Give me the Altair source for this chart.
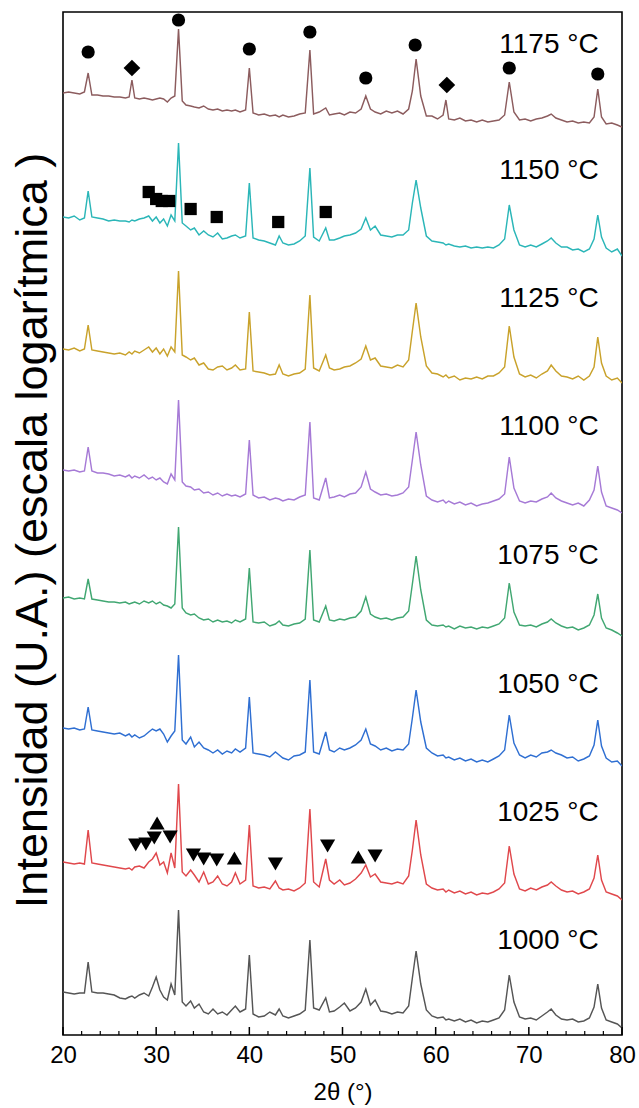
import altair as alt
import pandas as pd

# 2-theta sampling grid (degrees)
THETA = [
    20.0, 20.6, 21.2, 21.8, 22.3, 22.7, 23.1, 23.7, 24.3, 24.9,
    25.5, 26.1, 26.7, 27.1, 27.4, 27.7, 28.2, 28.7, 29.2, 29.6,
    30.0, 30.4, 30.8, 31.2, 31.6, 32.0, 32.4, 32.8, 33.2, 33.7,
    34.1, 34.6, 35.1, 35.6, 36.1, 36.6, 37.1, 37.6, 38.1, 38.5,
    39.0, 39.6, 40.0, 40.4, 41.0, 41.6, 42.2, 42.8, 43.2, 43.6,
    44.2, 44.8, 45.4, 46.0, 46.5, 46.9, 47.5, 48.2, 48.6, 49.1,
    49.7, 50.2, 50.8, 51.4, 52.0, 52.5, 53.0, 53.5, 54.1, 54.7,
    55.3, 55.9, 56.5, 57.1, 57.5, 57.9, 58.4, 59.0, 59.6, 60.2,
    60.8, 61.1, 61.4, 62.0, 62.6, 63.2, 63.8, 64.4, 65.0, 65.6,
    66.2, 66.8, 67.4, 67.9, 68.4, 69.0, 69.6, 70.2, 70.8, 71.4,
    72.0, 72.4, 72.9, 73.5, 74.1, 74.7, 75.3, 75.9, 76.5, 77.0,
    77.4, 77.8, 78.3, 78.9, 79.5, 80.0,
]

TEMPS = ["1175 °C", "1150 °C", "1125 °C", "1100 °C",
         "1075 °C", "1050 °C", "1025 °C", "1000 °C"]
COLORS = ["#8c5c5e", "#2bb6b8", "#c9a22b", "#a67ad6",
          "#41a772", "#2f6fd2", "#e0484c", "#555555"]
# vertical stacking offset of each pattern (arbitrary units)
OFFSETS = [942, 818, 686, 565, 437, 307, 173, 43]
# label heights (arbitrary units)
LABEL_Y = [990, 864, 736, 608, 479, 350, 222, 94]

I_1175 = [
    0, 1, 0, -1, 1, 20, -2, -2, -3, -3,
    -4, -4, -5, -4, 13, -5, -6, -5, -6, -7,
    -6, -5, -6, -9, -5, -3, 64, -8, -12, -13,
    -14, -15, -13, -16, -17, -16, -18, -17, -18, -17,
    -19, -17, 25, -20, -22, -21, -23, -22, -24, -22,
    -24, -23, -21, -20, 43, -21, -19, -15, -22, -21,
    -20, -22, -19, -20, -16, -3, -16, -19, -21, -18,
    -20, -18, -21, -16, 2, 34, -3, -23, -23, -26,
    -22, -7, -26, -27, -25, -28, -27, -29, -27, -29,
    -28, -27, -22, 11, -19, -27, -26, -28, -26, -25,
    -23, -21, -25, -27, -29, -28, -30, -29, -30, -24,
    4, -24, -31, -30, -32, -34,
]
I_1150 = [
    0, -1, 1, -3, -1, 26, 0, -1, -2, -4,
    -3, -4, -4, -5, -3, -4, -2, -1, 1, -4,
    0, -6, -2, -9, 2, -4, 74, -6, -9, -13,
    -11, -18, -14, -18, -20, -16, -22, -21, -19, -18,
    -21, -19, 34, -21, -23, -24, -26, -28, -19, -26,
    -28, -27, -24, -19, 49, -20, -24, -11, -23, -23,
    -21, -19, -18, -16, -12, -1, -13, -9, -18, -19,
    -20, -18, -18, -13, 14, 37, 9, -19, -24, -25,
    -26, -28, -27, -29, -30, -29, -31, -30, -31, -30,
    -31, -28, -22, 12, -13, -28, -30, -28, -30, -27,
    -24, -21, -26, -30, -30, -33, -32, -35, -32, -22,
    2, -20, -31, -35, -32, -39,
]
I_1125 = [
    0, -1, 1, -2, 0, 24, -1, -2, -3, -4,
    -5, -4, -6, -3, -5, -2, -4, -1, 2, -3,
    1, -5, 0, -7, 2, -3, 78, -6, -8, -11,
    -9, -16, -14, -20, -21, -18, -17, -21, -19, -16,
    -21, -20, 37, -22, -23, -24, -26, -25, -16, -25,
    -27, -25, -24, -20, 54, -19, -22, -6, -19, -21,
    -20, -18, -17, -14, -10, 3, -11, -9, -17, -18,
    -19, -16, -18, -11, 18, 46, 12, -17, -24, -25,
    -28, -26, -29, -27, -31, -29, -30, -28, -30, -27,
    -27, -24, -18, 23, -8, -25, -28, -26, -29, -25,
    -22, -16, -22, -27, -28, -30, -27, -31, -27, -18,
    12, -14, -27, -31, -29, -34,
]
I_1100 = [
    0, -1, 0, -2, -1, 23, -1, -3, -3, -4,
    -6, -5, -7, -5, -8, -6, -8, -5, -9, -7,
    -10, -8, -12, -14, -4, -10, 70, -12, -16, -17,
    -20, -19, -23, -22, -25, -23, -26, -24, -26, -25,
    -27, -24, 30, -25, -28, -27, -30, -28, -29, -31,
    -29, -30, -27, -25, 48, -28, -30, -8, -28, -27,
    -25, -27, -24, -23, -17, -2, -19, -22, -25, -24,
    -26, -25, -23, -17, 10, 38, 5, -26, -30, -32,
    -30, -33, -31, -34, -32, -35, -33, -36, -34, -33,
    -31, -29, -24, 13, -18, -31, -33, -31, -32, -29,
    -27, -23, -28, -31, -33, -35, -33, -36, -30, -20,
    4, -22, -36, -38, -40, -43,
]
I_1075 = [
    0, 1, -1, 0, -1, 19, -1, -2, -3, -4,
    -4, -5, -4, -6, -5, -4, -6, -3, -5, -3,
    -6, -4, -7, -8, -10, -6, 71, -10, -15, -17,
    -16, -20, -22, -21, -24, -22, -24, -23, -25, -22,
    -24, -21, 30, -24, -25, -24, -28, -26, -23, -27,
    -28, -26, -25, -21, 48, -22, -24, -8, -22, -23,
    -21, -22, -20, -19, -13, 1, -16, -19, -21, -20,
    -22, -20, -19, -13, 14, 42, 8, -22, -27, -28,
    -27, -29, -28, -31, -28, -30, -29, -31, -29, -30,
    -28, -26, -20, 15, -14, -27, -28, -27, -29, -26,
    -24, -21, -25, -28, -30, -29, -32, -30, -27, -17,
    4, -20, -30, -32, -35, -38,
]
I_1050 = [
    0, -1, 0, -2, -1, 21, -2, -3, -4, -5,
    -6, -5, -8, -6, -9, -7, -10, -8, -4, -1,
    -3, -1, -6, -14, -8, -3, 73, -12, -16, -9,
    -19, -14, -20, -22, -25, -22, -26, -23, -25, -21,
    -24, -20, 31, -25, -26, -27, -29, -24, -27, -30,
    -32, -28, -27, -24, 48, -24, -26, -4, -22, -24,
    -20, -22, -20, -17, -12, -1, -16, -18, -22, -20,
    -23, -21, -22, -16, 10, 38, 6, -20, -25, -28,
    -27, -30, -29, -32, -30, -33, -31, -34, -32, -34,
    -31, -28, -22, 13, -15, -27, -30, -27, -29, -25,
    -24, -22, -25, -27, -30, -29, -33, -31, -28, -17,
    8, -18, -30, -34, -33, -38,
]
I_1025 = [
    0, -1, -2, -1, -2, 32, -1, -2, -3, -4,
    -5, -6, -7, -6, -8, -5, -4, -6, 0, 3,
    9, -3, 0, -11, 9, -6, 78, -10, -14, -8,
    -13, -20, -10, -22, -20, -14, -22, -24, -20, -11,
    -22, -18, 37, -24, -26, -25, -27, -19, -26, -28,
    -27, -29, -26, -21, 53, -20, -25, 3, -18, -22,
    -18, -23, -21, -17, -11, -3, -15, -12, -20, -21,
    -22, -20, -22, -14, 12, 42, 7, -22, -26, -28,
    -27, -30, -28, -31, -29, -32, -30, -33, -31, -32,
    -30, -27, -21, 16, -12, -27, -29, -26, -28, -25,
    -23, -20, -24, -28, -30, -29, -32, -30, -27, -16,
    7, -18, -30, -32, -34, -38,
]
I_1000 = [
    0, -1, -2, -1, -1, 30, 0, -1, -1, -2,
    -3, -6, -7, -5, -4, -6, -3, -1, -4, 5,
    15, 2, -5, -8, 8, -3, 82, -10, -14, -9,
    -16, -12, -20, -22, -17, -22, -20, -23, -18, -14,
    -20, -17, 37, -22, -25, -24, -20, -23, -17, -24,
    -26, -24, -22, -18, 52, -16, -18, -6, -20, -19,
    -15, -11, -19, -16, -10, 3, -13, -8, -19, -20,
    -22, -20, -21, -14, 14, 41, 8, -18, -24, -26,
    -25, -28, -27, -29, -27, -30, -28, -31, -29, -30,
    -28, -26, -18, 17, -10, -25, -27, -26, -28, -24,
    -20, -17, -23, -27, -28, -27, -30, -29, -26, -15,
    8, -16, -28, -30, -32, -36,
]
PROFILES = [I_1175, I_1150, I_1125, I_1100, I_1075, I_1050, I_1025, I_1000]

# phase markers (position in 2theta, height in arbitrary units)
CIRCLE_X = [22.7, 32.4, 40.0, 46.5, 52.5, 57.8, 67.9, 77.4]
CIRCLE_Y = [983, 1015, 986, 1003, 957, 990, 967, 961]
DIAMOND_X = [27.4, 61.2]
DIAMOND_Y = [967, 950]
SQUARE_X = [29.2, 30.0, 30.6, 31.4, 33.7, 36.5, 43.1, 48.2]
SQUARE_Y = [843, 836, 834, 834, 826, 818, 813, 823]
TRI_DOWN_X = [27.8, 28.9, 29.8, 31.5, 34.0, 35.1, 36.5, 42.8, 48.4, 53.5]
TRI_DOWN_Y = [190, 191, 197, 198, 180, 176, 175, 171, 189, 179]
TRI_UP_X = [30.1, 38.4, 51.7]
TRI_UP_Y = [212, 177, 178]

MAJOR_TICKS = [20, 30, 40, 50, 60, 70, 80]
MINOR_TICKS = [22, 24, 26, 28, 32, 34, 36, 38, 42, 44, 46, 48, 52, 54, 56, 58,
               62, 64, 66, 68, 72, 74, 76, 78]

rows = []
for t, off, prof in zip(TEMPS, OFFSETS, PROFILES):
    for x, r in zip(THETA, prof):
        rows.append({"theta": x, "I": off + r, "temp": t})
df = pd.DataFrame(rows)

W, H = 559, 1023
FONT = "Liberation Sans"
xs = alt.Scale(domain=[20, 80], nice=False, zero=False)
ys = alt.Scale(domain=[0, H], nice=False, zero=False)

lines = alt.Chart(df).mark_line(strokeWidth=1.45, clip=True).encode(
    x=alt.X("theta:Q", scale=xs,
            axis=alt.Axis(values=MAJOR_TICKS, title="2θ (°)", ticks=False, tickSize=0,
                          domain=False, grid=False, labelFont=FONT, labelFontSize=24,
                          labelColor="black", labelPadding=8, labelFlush=False,
                          labelOverlap=False, titleFont=FONT,
                          titleFontSize=24, titleFontWeight="normal", titleColor="black",
                          titleY=57, titleBaseline="middle")),
    y=alt.Y("I:Q", scale=ys,
            axis=alt.Axis(labels=False, ticks=False, domain=False, grid=False,
                          title="Intensidad (U.A.) (escala logarítmica )",
                          titleFont=FONT, titleFontSize=45, titleFontWeight="normal",
                          titleColor="black", titleAngle=270, titleX=-31, titleY=518,
                          titleAlign="center", titleBaseline="middle")),
    color=alt.Color("temp:N", scale=alt.Scale(domain=TEMPS, range=COLORS), legend=None),
    detail="temp:N",
    order="theta:Q",
)


def pts(xv, yv, shape, size):
    d = pd.DataFrame({"theta": xv, "I": yv})
    return alt.Chart(d).mark_point(shape=shape, filled=True, color="black",
                                   opacity=1, size=size).encode(
        x=alt.X("theta:Q", scale=xs), y=alt.Y("I:Q", scale=ys))


markers = [
    pts(CIRCLE_X, CIRCLE_Y, "circle", 175),
    pts(DIAMOND_X, DIAMOND_Y, "diamond", 280),
    pts(SQUARE_X, SQUARE_Y, "square", 150),
    pts(TRI_DOWN_X, TRI_DOWN_Y, "triangle-down", 230),
    pts(TRI_UP_X, TRI_UP_Y, "triangle-up", 230),
]

lab_df = pd.DataFrame({"theta": [77.5] * len(TEMPS), "I": LABEL_Y, "label": TEMPS})
labels = alt.Chart(lab_df).mark_text(align="right", baseline="middle", font=FONT,
                                     fontSize=28, color="black").encode(
    x=alt.X("theta:Q", scale=xs), y=alt.Y("I:Q", scale=ys), text="label:N")

maj = alt.Chart(pd.DataFrame({"theta": MAJOR_TICKS})).mark_rule(
    color="black", strokeWidth=1.5).encode(
    x=alt.X("theta:Q", scale=xs), y=alt.value(H), y2=alt.value(H - 8))
mnr = alt.Chart(pd.DataFrame({"theta": MINOR_TICKS})).mark_rule(
    color="black", strokeWidth=1.2).encode(
    x=alt.X("theta:Q", scale=xs), y=alt.value(H), y2=alt.value(H - 4))

chart = alt.layer(lines, *markers, labels, maj, mnr).properties(
    width=W, height=H,
    padding={"left": 63, "top": 12, "right": 17, "bottom": 73},
    autosize=alt.AutoSizeParams(type="none"),
    background="white",
).configure_view(stroke="black", strokeWidth=1.6)

chart.save("out.html", embed_options={"renderer": "svg", "actions": False})
